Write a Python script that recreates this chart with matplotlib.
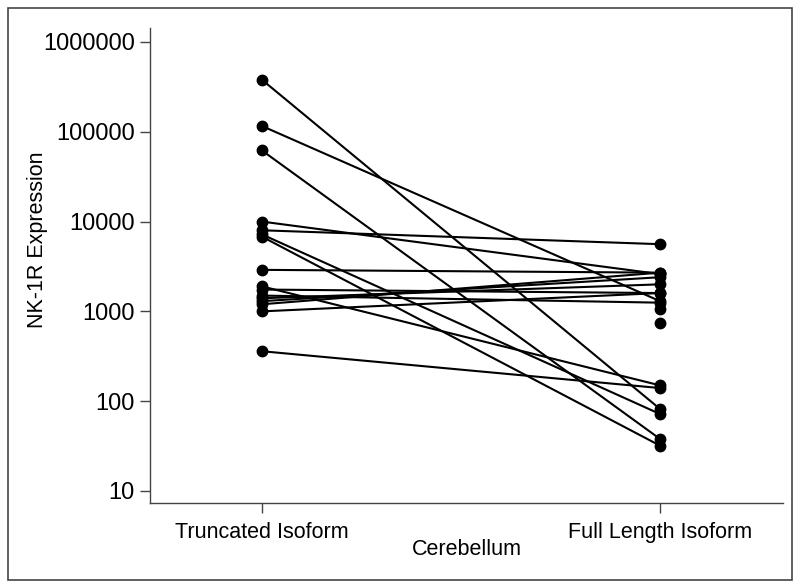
import matplotlib

matplotlib.use('Agg')
import matplotlib.pyplot as plt
from matplotlib.patches import Rectangle
import numpy as np

plt.rcParams['font.family'] = ['Liberation Sans', 'DejaVu Sans']

groups = ['Truncated Isoform', 'Full Length Isoform']
# paired samples, truncated -> full length
truncated = [380000, 116000, 62000, 10000, 8000, 7200, 6800, 2900,
             1900, 1750, 1500, 1400, 1300, 1200, 1000, 360]
full_length = [82, 1300, 38, 2600, 5600, 72, 32, 2700,
               150, 1600, 1250, 2000, 2400, 2700, 1600, 140]
# full length samples without a truncated partner
full_only = [740, 1050]
yticks = [10, 100, 1000, 10000, 100000, 1000000]

fig = plt.figure(figsize=(8, 5.87), dpi=100)
ax = fig.add_axes([150 / 800, 1 - 503 / 587, 633 / 800, 475 / 587])

for a, b in zip(truncated, full_length):
    ax.plot([0, 1], [a, b], color='black', lw=1.5, marker='o', ms=7.5, zorder=3)
ax.plot([1] * len(full_only), full_only, 'o', color='black', ms=7.5, zorder=3)

ax.set_yscale('log')
ax.set_ylim(7.35, 1.43e6)
ax.set_xlim(-0.281, 1.309)
ax.set_yticks(yticks)
ax.set_yticklabels([str(t) for t in yticks], fontsize=17)
ax.minorticks_off()
ax.set_xticks([0, 1])
ax.set_xticklabels(groups, fontsize=15.5)
ax.tick_params(length=7, width=1, color='#444444')
ax.tick_params(axis='y', pad=4)
ax.tick_params(axis='x', pad=7)

ax.spines['top'].set_visible(False)
ax.spines['right'].set_visible(False)
for s in ('left', 'bottom'):
    ax.spines[s].set_color('#444444')
    ax.spines[s].set_linewidth(1)

ax.set_ylabel('NK-1R Expression', fontsize=15.5, ha='center', va='center')
ax.yaxis.set_label_coords(-0.177, 0.555)
ax.set_xlabel('Cerebellum', fontsize=15.5, va='center')
ax.xaxis.set_label_coords(0.5, -0.097)

fig.patches.append(Rectangle((8 / 800, 1 - 580 / 587), 784 / 800, 572 / 587,
                             transform=fig.transFigure, fill=False,
                             edgecolor='#444444', lw=1.2))

fig.savefig('out.png', dpi=100)
